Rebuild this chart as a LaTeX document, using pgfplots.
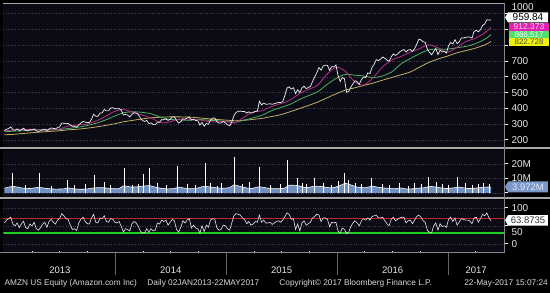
\documentclass[border=0pt]{standalone}
\usepackage{fontspec}
\setmainfont{Liberation Sans}
\usepackage{pgfplots}
\usepackage{pgfplotstable}
\pgfplotsset{compat=1.18}
\usetikzlibrary{shapes.symbols}

\definecolor{bgpanel}{HTML}{0B0B16}
\definecolor{gridc}{HTML}{40404C}
\definecolor{yearc}{HTML}{55555E}
\definecolor{sepc}{HTML}{A8A8A8}
\definecolor{lblc}{HTML}{E6E6E6}
\definecolor{ma50}{HTML}{B8308A}
\definecolor{ma100}{HTML}{4FB060}
\definecolor{ma200}{HTML}{C2B060}
\definecolor{volblue}{HTML}{7090C0}
\definecolor{volbox}{HTML}{7A98C8}
\definecolor{rsired}{HTML}{C02828}
\definecolor{rsigreen}{HTML}{20D020}
\definecolor{pricec}{HTML}{F2F2F2}
\definecolor{rsic}{HTML}{F0E4EA}
\definecolor{boxmag}{HTML}{E020B0}
\definecolor{boxgreen}{HTML}{50E070}
\definecolor{boxyel}{HTML}{F0F010}

% weekly closes, Jan 2013 - 22 May 2017
\pgfplotstableread[row sep=\\]{
p\\
259\\268\\272\\283\\265\\261\\270\\259\\265\\274\\
261\\257\\266\\263\\270\\258\\254\\258\\265\\268\\
260\\269\\276\\273\\270\\278\\283\\307\\306\\303\\
304\\295\\286\\287\\281\\295\\308\\317\\313\\310\\
310\\331\\363\\350\\350\\370\\372\\393\\384\\384\\
402\\404\\
397\\397\\399\\387\\358\\361\\357\\346\\362\\372\\
370\\361\\338\\323\\317\\324\\303\\308\\297\\297\\
312\\312\\329\\327\\333\\324\\331\\346\\345\\324\\
307\\316\\333\\331\\339\\346\\326\\331\\323\\322\\
294\\311\\287\\305\\299\\327\\338\\339\\316\\307\\
307\\318\\
308\\296\\290\\313\\354\\374\\381\\383\\380\\380\\
370\\378\\370\\372\\382\\382\\445\\422\\433\\426\\
427\\429\\426\\429\\434\\438\\437\\443\\483\\529\\
536\\522\\531\\494\\518\\500\\529\\540\\525\\532\\
539\\570\\599\\625\\659\\642\\668\\673\\672\\641\\
664\\662\\
675\\607\\570\\596\\587\\502\\507\\534\\555\\575\\
569\\552\\583\\598\\595\\625\\620\\659\\679\\709\\
702\\712\\725\\717\\706\\698\\725\\745\\735\\744\\
758\\766\\772\\757\\769\\772\\761\\778\\805\\837\\
834\\822\\818\\776\\755\\739\\760\\780\\740\\768\\
757\\760\\750\\
796\\817\\808\\835\\810\\821\\845\\845\\849\\852\\
852\\845\\886\\894\\884\\898\\925\\934\\961\\959\\960\\
}\pricetab

% weekly RSI
\pgfplotstableread[row sep=\\]{
r\\
58\\66\\70\\74\\55\\50\\58\\45\\55\\63\\45\\42\\55\\50\\60\\42\\
38\\45\\55\\60\\46\\62\\68\\60\\55\\66\\70\\84\\78\\70\\68\\52\\
40\\42\\37\\58\\68\\74\\62\\56\\55\\72\\82\\60\\58\\72\\70\\78\\
62\\60\\70\\68\\
60\\58\\62\\48\\33\\42\\40\\36\\56\\62\\58\\48\\35\\30\\31\\42\\
33\\42\\36\\38\\58\\55\\66\\62\\66\\52\\60\\68\\64\\40\\33\\46\\
64\\58\\66\\70\\44\\52\\44\\42\\30\\50\\34\\52\\46\\66\\70\\68\\
44\\38\\40\\52\\
50\\42\\38\\58\\78\\84\\82\\80\\72\\68\\56\\62\\52\\55\\62\\60\\
80\\60\\66\\58\\58\\60\\54\\58\\62\\64\\60\\66\\76\\86\\82\\68\\
70\\40\\55\\36\\58\\64\\52\\56\\60\\72\\76\\82\\80\\62\\72\\72\\
68\\48\\60\\58\\
60\\35\\30\\44\\40\\28\\32\\48\\58\\64\\58\\50\\64\\70\\66\\72\\
66\\76\\78\\80\\72\\72\\74\\64\\56\\50\\68\\74\\64\\68\\72\\74\\
74\\58\\64\\66\\56\\66\\76\\80\\74\\64\\60\\38\\32\\30\\50\\58\\
38\\56\\48\\50\\46\\
68\\74\\62\\72\\52\\60\\70\\68\\66\\66\\64\\56\\72\\74\\60\\70\\
82\\78\\86\\72\\64\\
}\rsitab

% moving averages (50, 100, 200 day)
\pgfplotstableread{
w a b c
0 258 252 233
3.8 262 255 235
8.2 267 258 240
12.5 265 262 245
16.9 263 265 250
21.2 262 265 254
25.6 268 266 258
29.9 287 272 264
34.3 295 280 268
38.6 299 290 274
43.0 319 305 282
47.3 347 325 291
51.7 380 350 302
56.0 393 372 315
60.4 375 378 324
64.7 358 375 333
69.1 339 365 340
73.4 310 345 344
77.8 314 330 346
82.1 332 328 346
86.5 332 324 345
90.8 329 330 341
95.2 318 326 335
99.5 314 322 330
103.9 318 318 326
108.2 308 312 322
112.6 342 325 324
116.9 377 340 330
121.3 385 357 337
125.6 411 385 348
130.0 430 405 360
134.3 451 425 378
138.7 492 455 398
143.0 520 480 418
147.4 547 505 440
151.7 615 550 466
156.1 660 590 492
160.4 635 615 515
164.8 568 610 530
169.1 548 605 545
173.5 595 595 560
177.8 660 605 578
182.2 706 630 595
186.5 728 680 612
190.9 755 715 630
195.2 777 745 660
199.6 802 770 690
203.9 785 775 712
208.3 756 775 730
212.6 783 783 750
217.0 822 792 765
221.3 842 808 780
225.7 875 835 800
229 912 866 823
}\matab

% volume moving level (millions)
\pgfplotstableread{
w v
0 3.2
4 4.5
8 3.4
12 3.0
16 3.8
20 3.0
24 2.6
28 2.8
30 3.4
34 2.6
38 2.5
42 3.4
46 3.6
50 3.0
54 2.9
56 4.8
60 4.0
64 4.4
68 5.0
72 3.6
76 2.8
80 3.0
82 4.0
86 2.9
90 3.0
94 4.5
98 3.8
102 3.2
106 3.6
108 5.5
112 4.0
116 3.0
120 4.2
124 3.2
128 2.8
132 3.4
134 5.2
138 5.0
142 3.6
146 4.6
150 4.2
154 3.4
158 5.0
160 6.5
162 6.0
166 4.0
170 3.6
173 4.6
176 3.8
180 3.2
184 2.8
186 3.4
190 2.6
194 3.2
198 3.6
200 4.5
204 3.8
208 3.0
212 3.6
214 4.0
218 3.0
222 3.3
226 4.0
229 3.97
}\voltab

% high-volume days (millions)
\pgfplotstableread{
w v
3.8 13.4
10 5.5
16.2 14
22 5
29.4 8.6
33 5.5
38 6
42.5 12
47 7.5
50 5.5
56.2 17
60 5.5
63 6
65.3 12.8
68.4 17
72 7
76 5.5
81.3 18.5
86 6
90 5.5
94.5 20.3
97 6.5
100 5
102 6.5
108 25
112 6
115 7.5
119.9 18
125 5.5
130 6
133 23
137.8 10
140 7
142 6
146 10
150 6.5
154 5.5
157 8
159.9 14
162 9
165 6.5
168 6
172.5 10
178 6
181 5.5
185.7 6.6
190 5
193 6.5
196 6
199.3 10.7
203 7.5
206 6
209 5.5
213 10.7
217 7
220 5.5
223 6
225.2 6.6
228 6
}\spiketab

\pgfplotsset{
  bbg/.style={
    scale only axis, anchor=south west,
    xmin=-0.47, xmax=235.1,
    axis line style={draw=none},
    axis background/.style={fill=bgpanel},
    xtick=\empty,
    minor xtick={52.18,104.36,156.54,208.72},
    xminorgrids,
    minor grid style={yearc, line width=0.6pt},
    ymajorgrids,
    major grid style={gridc, dotted, line width=0.5pt},
    ytick pos=right,
    yticklabel pos=right,
    tick align=outside,
    major tick length=4pt,
    minor tick length=0pt,
    ytick style={white, line width=0.9pt},
    tick label style={font=\fontsize{10}{10}\selectfont, text=lblc},
    /pgf/number format/assume math mode=true,
    /pgf/number format/1000 sep={},
  }
}

\begin{document}
\begin{tikzpicture}
\begin{scope}[x=1pt,y=1pt]
\fill[black] (0,0) rectangle (550,293);
\useasboundingbox (0,0) rectangle (550,293);
\end{scope}

% price panel
\begin{axis}[bbg, width=501pt, height=144pt, at={(3pt,146pt)},
  ymin=156, ymax=1067, ytick={200,300,400,500,600,700,800,900},
  yticklabels={200,300,400,500,600,700,,},
  extra y ticks={1000},
  extra y tick style={yticklabel style={yshift=6.5pt}}]
\addplot[ma200, line width=0.8pt, smooth] table[x=w, y=c] {\matab};
\addplot[ma100, line width=0.8pt, smooth] table[x=w, y=b] {\matab};
\addplot[ma50, line width=0.8pt, smooth] table[x=w, y=a] {\matab};
\addplot[pricec, line width=0.7pt] table[x expr=\coordindex, y=p] {\pricetab};
\end{axis}

% volume panel
\begin{axis}[bbg, width=501pt, height=47pt, at={(3pt,96pt)},
  ymin=-2.76, ymax=29.66, ytick={0,10,20}, yticklabels={,10M,20M}]
\addplot[fill=volblue, draw=none] table[x=w, y=v] {\voltab} \closedcycle;
\addplot[ycomb, white, line width=0.6pt] table[x=w, y=v] {\spiketab};
\addplot[white, line width=0.6pt, smooth] table[x=w, y=v] {\voltab};
\end{axis}

% RSI panel
\begin{axis}[bbg, width=501pt, height=53pt, at={(3pt,40pt)},
  ymin=-25, ymax=122.2, ytick={0,100},
  extra y ticks={50},
  extra y tick style={yticklabel style={yshift=-6pt}}]
\addplot[rsired, line width=1pt] coordinates {(-1,70) (236,70)};
\addplot[rsigreen, line width=1.1pt] coordinates {(-1,30) (236,30)};
\addplot[rsic, line width=0.6pt] table[x expr=\coordindex, y=r] {\rsitab};
\pgfplotsinvokeforeach{13.05,26.09,39.14,65.23,78.27,91.32,117.4,130.45,143.5,169.6,182.6,195.7,221.8}{
  \draw[white, line width=0.8pt] (axis cs:#1,-25) -- ([yshift=2pt]axis cs:#1,-25);
}
\end{axis}

\begin{scope}[x=1pt,y=1pt]
% frame lines
\draw[sepc, line width=0.6pt] (3,290) -- (504,290);
\fill[sepc] (0,143.5) rectangle (550,145.5);
\fill[sepc] (0,93.5) rectangle (550,95.5);
\draw[sepc!80!black, line width=0.8pt] (504,40) -- (504,290);
\draw[sepc!80!black, line width=0.8pt] (0,40) -- (504,40);
\foreach \xx in {115,226,337,448} \draw[sepc!60!black, line width=0.8pt] (\xx,40) -- (\xx,18);

% value boxes
\node[fill=boxgreen, text=white, minimum width=40pt, minimum height=7.4pt, inner sep=0pt,
  font=\fontsize{8}{8}\selectfont] at (529,258.5) {866.517};
\node[fill=boxmag, text=white!85!magenta, minimum width=40pt, minimum height=7.8pt, inner sep=0pt,
  font=\fontsize{8.5}{8.5}\selectfont] at (529,266.2) {912.373};
\node[fill=boxyel, text=black!70, minimum width=40pt, minimum height=7.4pt, inner sep=0pt,
  font=\fontsize{8}{8}\selectfont] at (529,251) {822.728};
\node[signal, signal to=west, signal pointer angle=120, fill=white, text=black,
  minimum width=43pt, minimum height=10pt, inner sep=0.5pt,
  font=\fontsize{10}{10}\selectfont] at (528,275.5) {959.84};
\node[signal, signal to=west, signal pointer angle=120, fill=volbox, text=white!90!blue,
  minimum width=43pt, minimum height=11pt, inner sep=0.5pt,
  font=\fontsize{9.5}{10}\selectfont] at (528,106) {3.972M};
\node[signal, signal to=west, signal pointer angle=120, fill=white, text=black!80,
  minimum width=43pt, minimum height=10.5pt, inner sep=0.5pt,
  font=\fontsize{9.5}{10}\selectfont] at (528,72.5) {63.8735};

% year labels
\foreach \xx/\yy in {59.5/2013,170.5/2014,281.5/2015,392.5/2016,476/2017}
  \node[text=lblc, font=\fontsize{9.5}{10}\selectfont] at (\xx,23) {\yy};

% footer
\begin{scope}[every node/.style={text=black!15, font=\fontsize{8.3}{9}\selectfont, inner sep=0pt}]
\node[anchor=west] at (4,9) {AMZN US Equity (Amazon.com Inc)};
\node[anchor=west] at (147,9) {Daily 02JAN2013-22MAY2017};
\node[anchor=west] at (279,9) {Copyright© 2017 Bloomberg Finance L.P.};
\node[anchor=east] at (548,9) {22-May-2017 15:07:24};
\end{scope}
\end{scope}
\end{tikzpicture}
\end{document}
